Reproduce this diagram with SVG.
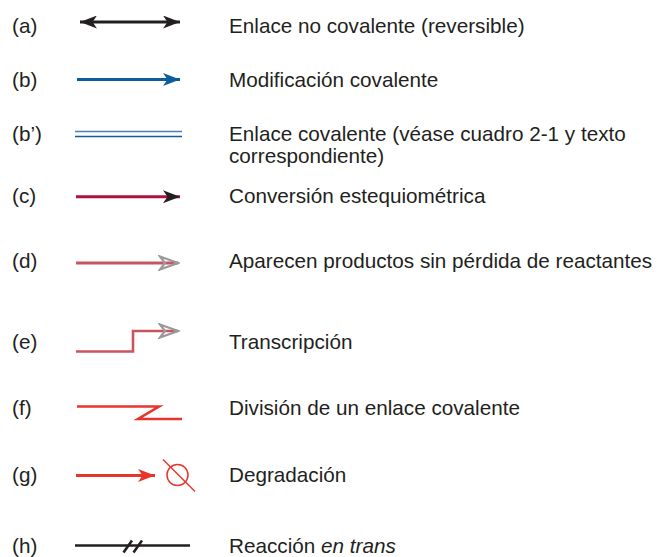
<svg xmlns="http://www.w3.org/2000/svg" width="657" height="557" viewBox="0 0 657 557">
<defs>
<style>
text{font-family:"Liberation Sans",Arial,Helvetica,sans-serif;font-size:20.7px;fill:#231f20}
.ln{fill:none;stroke-linecap:butt}
</style>
<marker id="blk" viewBox="0 0 17 13" refX="17" refY="6.5" markerWidth="17" markerHeight="13" markerUnits="userSpaceOnUse" orient="auto-start-reverse"><path d="M0,0 L17,6.5 L0,13 L4.5,6.5 Z" fill="#231f20"/></marker>
<marker id="blue" viewBox="0 0 17 13" refX="17" refY="6.5" markerWidth="17" markerHeight="13" markerUnits="userSpaceOnUse" orient="auto"><path d="M0,0 L17,6.5 L0,13 L4.5,6.5 Z" fill="#0b5e9b"/></marker>
<marker id="open" viewBox="0 0 22 16" refX="20" refY="8" markerWidth="22" markerHeight="16" markerUnits="userSpaceOnUse" orient="auto"><path d="M2,1.5 L20,8 L2,14.5 L7,8 Z" fill="none" stroke="#9a9a9c" stroke-width="2.2" stroke-linejoin="miter"/></marker>
<marker id="red" viewBox="0 0 17 13" refX="17" refY="6.5" markerWidth="17" markerHeight="13" markerUnits="userSpaceOnUse" orient="auto"><path d="M0,0 L17,6.5 L0,13 L4.5,6.5 Z" fill="#e8352b"/></marker>
</defs>
<g id="labels">
<text x="12" y="33">(a)</text>
<text x="12" y="87">(b)</text>
<text x="12" y="141">(b’)</text>
<text x="12" y="203">(c)</text>
<text x="12" y="268">(d)</text>
<text x="12" y="349">(e)</text>
<text x="12" y="415">(f)</text>
<text x="12" y="482">(g)</text>
<text x="12" y="553">(h)</text>
</g>
<g id="connectors">
<g id="conn-a"><line class="ln" x1="80" y1="22" x2="180" y2="22" stroke="#231f20" stroke-width="3" marker-start="url(#blk)" marker-end="url(#blk)"/></g>
<g id="conn-b"><line class="ln" x1="77" y1="79.5" x2="180" y2="79.5" stroke="#0b5e9b" stroke-width="3" marker-end="url(#blue)"/></g>
<g id="conn-b2"><line class="ln" x1="75" y1="131.5" x2="182" y2="131.5" stroke="#4a7fae" stroke-width="1.6"/><line class="ln" x1="75" y1="136.5" x2="182" y2="136.5" stroke="#0b5e9b" stroke-width="1.6"/></g>
<g id="conn-c"><line class="ln" x1="76" y1="196.7" x2="180" y2="196.7" stroke="#b0103f" stroke-width="3" marker-end="url(#blk)"/></g>
<g id="conn-d"><line class="ln" x1="76" y1="263" x2="178" y2="263" stroke="#c9545f" stroke-width="3" marker-end="url(#open)"/></g>
<g id="conn-e"><polyline class="ln" points="76,351.5 133,351.5 133,331 178,331" stroke="#c9545f" stroke-width="2.6" marker-end="url(#open)"/></g>
<g id="conn-f"><polyline class="ln" points="77,406.5 159,406.5 138,419 182,419" stroke="#e8352b" stroke-width="2.6" stroke-linejoin="miter"/></g>
<g id="conn-g"><line class="ln" x1="76" y1="475.5" x2="155" y2="475.5" stroke="#e8352b" stroke-width="3" marker-end="url(#red)"/><circle cx="177.5" cy="475" r="10.5" fill="none" stroke="#e8352b" stroke-width="1.5"/><line x1="163" y1="459.5" x2="195" y2="491.5" stroke="#e8352b" stroke-width="1.5"/></g>
<g id="conn-h"><line class="ln" x1="75" y1="545.5" x2="190" y2="545.5" stroke="#231f20" stroke-width="2.6"/><line x1="123.5" y1="552.5" x2="132" y2="540.5" stroke="#231f20" stroke-width="2.6"/><line x1="133.5" y1="552.5" x2="142" y2="540.5" stroke="#231f20" stroke-width="2.6"/></g>
</g>
<g id="texts">
<text x="229" y="33">Enlace no covalente (reversible)</text>
<text x="229" y="87">Modificación covalente</text>
<text x="229" y="141">Enlace covalente (véase cuadro 2-1 y texto</text>
<text x="229" y="163">correspondiente)</text>
<text x="229" y="203">Conversión estequiométrica</text>
<text x="229" y="268">Aparecen productos sin pérdida de reactantes</text>
<text x="229" y="349">Transcripción</text>
<text x="229" y="415">División de un enlace covalente</text>
<text x="229" y="482">Degradación</text>
<text x="229" y="553">Reacción <tspan font-style="italic">en trans</tspan></text>
</g>
</svg>
